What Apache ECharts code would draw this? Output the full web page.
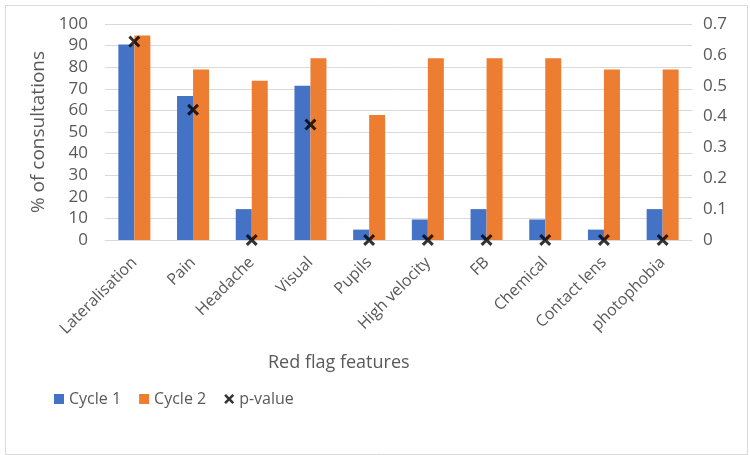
<!DOCTYPE html>
<html>
<head>
<meta charset="utf-8">
<script src="https://cdn.jsdelivr.net/npm/echarts@6/dist/echarts.min.js"></script>
<style>html,body{margin:0;padding:0;background:#fff;}#c{width:750px;height:455px;}</style>
</head>
<body>
<div id="c"></div>
<script>
var categories = ['Lateralisation','Pain','Headache','Visual','Pupils','High velocity','FB','Chemical','Contact lens','photophobia'];
var cycle1 = [90.5, 66.7, 14.3, 71.4, 4.8, 9.5, 14.3, 9.5, 4.8, 14.3];
var cycle2 = [94.7, 78.9, 73.7, 84.2, 57.9, 84.2, 84.2, 84.2, 78.9, 78.9];
var pValue = [0.643, 0.422, 0, 0.374, 0, 0, 0, 0, 0, 0];
var leftTicks = {min: 0, max: 100, interval: 10};
var rightTicks = {min: 0, max: 0.7, interval: 0.1};

var FONT = '"Open Sans", "Noto Sans", sans-serif';
var GREY = '#595959';
var XPATH = 'path://M0,1.8 L1.8,0 L5,3.2 L8.2,0 L10,1.8 L6.8,5 L10,8.2 L8.2,10 L5,6.8 L1.8,10 L0,8.2 L3.2,5 Z';

var chart = echarts.init(document.getElementById('c'));
chart.setOption({
  animation: false,
  backgroundColor: '#fff',
  textStyle: {fontFamily: FONT, color: GREY},
  graphic: [
    {type: 'rect', left: 3, top: 3, shape: {width: 742, height: 449}, style: {fill: 'none', stroke: '#d9d9d9', lineWidth: 1}, z: -10},
    {type: 'text', left: 268, top: 354, style: {text: 'Red flag features', fill: GREY, font: '18px ' + FONT}}
  ],
  grid: {left: 105, right: 58, top: 24, bottom: 215, containLabel: false},
  legend: {
    left: 49, top: 386,
    itemWidth: 10, itemHeight: 10, itemGap: 18,
    textStyle: {fontFamily: FONT, fontSize: 16, color: GREY},
    data: [
      {name: 'Cycle 1', icon: 'rect'},
      {name: 'Cycle 2', icon: 'rect'},
      {name: 'p-value', icon: XPATH}
    ]
  },
  xAxis: {
    type: 'category',
    data: categories,
    axisLine: {lineStyle: {color: '#d9d9d9'}},
    axisTick: {show: false},
    axisLabel: {rotate: 45, fontSize: 16, color: GREY, fontFamily: FONT, margin: 20, interval: 0}
  },
  yAxis: [
    {
      type: 'value', min: leftTicks.min, max: leftTicks.max, interval: leftTicks.interval,
      name: '% of consultations', nameLocation: 'middle', nameGap: 56,
      nameTextStyle: {fontSize: 19, color: GREY, fontFamily: FONT},
      axisLine: {show: false}, axisTick: {show: false},
      axisLabel: {fontSize: 17, color: GREY, fontFamily: FONT, margin: 17},
      splitLine: {lineStyle: {color: '#d9d9d9'}}
    },
    {
      type: 'value', min: rightTicks.min, max: rightTicks.max, interval: rightTicks.interval,
      axisLine: {show: false}, axisTick: {show: false},
      axisLabel: {fontSize: 17, color: GREY, fontFamily: FONT, margin: 11,
        formatter: function (v) { return v === 0 ? '0' : v.toFixed(1); }},
      splitLine: {show: false}
    }
  ],
  series: [
    {name: 'Cycle 1', type: 'bar', data: cycle1, barWidth: 16, barGap: '0%', itemStyle: {color: '#4472C4'}},
    {name: 'Cycle 2', type: 'bar', data: cycle2, barWidth: 16, barGap: '0%', itemStyle: {color: '#ED7D31'}},
    {name: 'p-value', type: 'scatter', yAxisIndex: 1, data: pValue, symbol: XPATH, symbolSize: 12,
      itemStyle: {color: '#000'}, z: 10}
  ]
});
</script>
</body>
</html>
